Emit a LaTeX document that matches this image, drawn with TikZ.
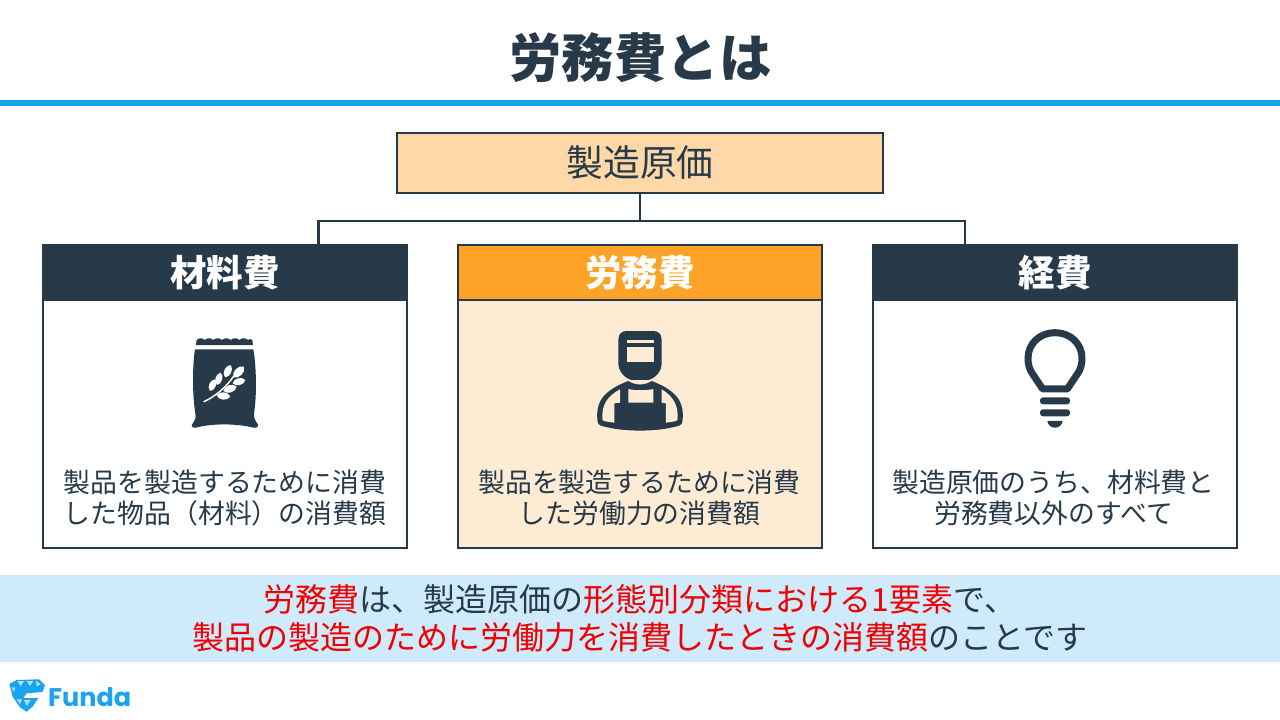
\documentclass[tikz,border=0pt]{standalone}
\usepackage{fontspec}
\setmainfont{Noto Sans CJK JP}
\newfontfamily\logofont{Poppins}
\definecolor{ink}{HTML}{263A4A}
\definecolor{rule}{HTML}{1AA3EE}
\definecolor{band}{HTML}{CFEAFB}
\definecolor{rootfill}{HTML}{FFD8A8}
\definecolor{accent}{HTML}{FFA228}
\definecolor{paleorange}{HTML}{FDEBD3}
\definecolor{redtext}{HTML}{F00000}
\newcommand{\fs}[2]{\fontsize{#1pt}{#2pt}\selectfont}
\newcommand{\rd}[1]{\textcolor{redtext}{#1}}
\newcommand{\leaflet}[2]{\fill[white] #1 to[bend left=65] #2 to[bend left=65] #1;}
\tikzset{
  x=1pt,y=-1pt,
  card/.style={draw=ink,line width=2pt,minimum width=364pt,minimum height=303pt,anchor=north west,inner sep=0pt},
  head/.style={draw=ink,line width=2pt,minimum width=364pt,minimum height=55pt,anchor=north west,inner sep=0pt,text=white,font=\fs{36.5}{40}\bfseries},
  body/.style={text=ink,font=\fs{26.85}{31},align=center,inner sep=0pt},
  link/.style={draw=ink,line width=2.4pt},
}
\begin{document}
\begin{tikzpicture}
\useasboundingbox (0,0) rectangle (1280,720);
\fill[white] (0,0) rectangle (1280,720);
\node[text=ink,font=\fs{52.4}{56}\bfseries,inner sep=0pt] (title) at (640.5,58) {労務費とは};
\fill[rule] (0,100) rectangle (1280,106);

\node[draw=ink,line width=2pt,fill=rootfill,minimum width=486pt,minimum height=60pt,anchor=north west,inner sep=0pt,text=ink,font=\fs{36.75}{40}] (root) at (396,132) {製造原価};

\coordinate (junction) at (640,221);
\coordinate (leftdrop) at (318.5,245);
\coordinate (rightdrop) at (965,245);
\draw[link] (root.south) -- (junction);
\draw[link,line join=miter] (leftdrop) |- (junction) -| (rightdrop);

\node[card,fill=white] (cardA) at (42,244) {};
\node[card,fill=paleorange] (cardB) at (457,244) {};
\node[card,fill=white] (cardC) at (872,244) {};
\node[head,fill=ink] (headA) at (42,244) {材料費};
\node[head,fill=accent] (headB) at (457,244) {労務費};
\node[head,fill=ink] (headC) at (872,244) {経費};

\node[body] (textA) at (225,497.5) {製品を製造するために消費\\した物品（材料）の消費額};
\node[body] (textB) at (639.5,497.5) {製品を製造するために消費\\した労働力の消費額};
\node[body] (textC) at (1053.5,497.5) {製造原価のうち、材料費と\\労務費以外のすべて};

% sack icon
\begin{scope}[shift={(170,320)},x=0.3333pt,y=-0.3333pt]
\fill[ink] (78,75) -- (80,60) .. controls (88,53) and (96,53) .. (104,60)
  .. controls (112,53) and (122,53) .. (130,60) .. controls (138,53) and (148,53) .. (156,60)
  .. controls (164,53) and (174,53) .. (182,60) .. controls (190,53) and (200,53) .. (208,60)
  .. controls (216,53) and (226,53) .. (234,60) .. controls (238,56) and (243,56) .. (247,60) -- (249,75) -- cycle;
\fill[ink] (75,88) -- (250,88) .. controls (258,130) and (262,220) .. (252,280)
  .. controls (250,295) and (258,305) .. (265,315) .. controls (266,322) and (258,325) .. (250,323)
  .. controls (200,310) and (125,310) .. (78,323) .. controls (70,325) and (64,322) .. (65,315)
  .. controls (72,305) and (80,295) .. (76,280) .. controls (66,220) and (68,130) .. (75,88) -- cycle;
\draw[white,line width=1.5pt,line cap=round] (102,245) .. controls (135,230) and (170,200) .. (190,170);
\leaflet{(190,172)}{(222,140)}
\leaflet{(165,172)}{(182,135)}
\leaflet{(141,195)}{(152,158)}
\leaflet{(120,213)}{(135,178)}
\leaflet{(188,190)}{(226,180)}
\leaflet{(160,213)}{(200,200)}
\leaflet{(140,226)}{(181,230)}
\end{scope}

% worker icon
\begin{scope}[shift={(585,320)},x=0.3333pt,y=-0.3333pt]
\fill[ink] (37,300) .. controls (33,255) and (45,215) .. (130,183) .. controls (150,197) and (180,197) .. (200,183)
  .. controls (285,215) and (297,255) .. (293,300) .. controls (293,318) and (280,318) .. (262,322)
  .. controls (210,335) and (120,335) .. (68,322) .. controls (50,318) and (37,318) .. (37,300) -- cycle;
\fill[paleorange] (52,298) .. controls (50,262) and (60,232) .. (105,208) -- (105,248) -- (88,250) -- (88,308) .. controls (70,305) and (53,305) .. (52,298) -- cycle;
\fill[paleorange] (278,298) .. controls (280,262) and (270,232) .. (230,208) -- (230,248) -- (243,250) -- (243,308) .. controls (260,305) and (277,305) .. (278,298) -- cycle;
\fill[paleorange] (130,207) .. controls (150,212) and (185,212) .. (205,207) -- (205,248) -- (130,248) -- cycle;
\fill[ink] (100,60) .. controls (100,42) and (110,33) .. (125,33) -- (205,33) .. controls (220,33) and (230,42) .. (230,60)
  -- (230,130) .. controls (230,155) and (210,175) .. (190,180) -- (140,180) .. controls (120,175) and (100,155) .. (100,130) -- cycle;
\fill[paleorange] (125,60) rectangle (207,68);
\fill[paleorange] (125,80) rectangle (207,125);
\end{scope}

% bulb icon
\begin{scope}[shift={(1000,320)},x=0.3333pt,y=-0.3333pt]
\draw[ink,line width=7pt,line join=round] (128,207) -- (100,165) .. controls (88,150) and (84,132) .. (84,115)
  .. controls (84,70) and (120,38) .. (165,38) .. controls (210,38) and (246,70) .. (246,115)
  .. controls (246,132) and (242,150) .. (230,165) -- (202,207) -- cycle;
\fill[ink,rounded corners=3pt] (120,232) rectangle (210,253);
\fill[ink,rounded corners=3pt] (120,268) rectangle (210,289);
\fill[ink] (142,303) -- (188,303) .. controls (184,330) and (146,330) .. (142,303) -- cycle;
\end{scope}

\fill[band] (0,575) rectangle (1280,662);
\node[text=ink,font=\fs{32}{38},align=center,inner sep=0pt] (note) at (640,618) {\rd{労務費}は、製造原価の\rd{形態別分類における1要素}で、\\\rd{製品の製造のために労働力を消費したときの消費額}のことです};

% logo
\begin{scope}[shift={(0,670)},x=0.3333pt,y=-0.3333pt]
\fill[rule] (28,42) -- (50,30) -- (118,28) -- (135,45) -- (128,66) -- (80,70) -- (70,84) -- (115,84) -- (98,110) -- (80,125) -- (60,112) -- (38,80) -- cycle;
\fill[white!65!rule] (52,33) -- (72,33) -- (62,48) -- cycle;
\fill[white!65!rule] (80,33) -- (100,33) -- (90,48) -- cycle;
\fill[white!65!rule] (108,33) -- (122,42) -- (110,50) -- cycle;
\fill[white!65!rule] (34,52) -- (46,52) -- (42,66) -- cycle;
\fill[white!65!rule] (50,88) -- (66,88) -- (60,102) -- cycle;
\fill[white!65!rule] (72,90) -- (92,90) -- (81,108) -- cycle;
\end{scope}
\node[text=rule,font=\logofont\bfseries\fs{25.5}{28},inner sep=0pt,anchor=west] (logo) at (48,697) {Funda};
\end{tikzpicture}
\end{document}
